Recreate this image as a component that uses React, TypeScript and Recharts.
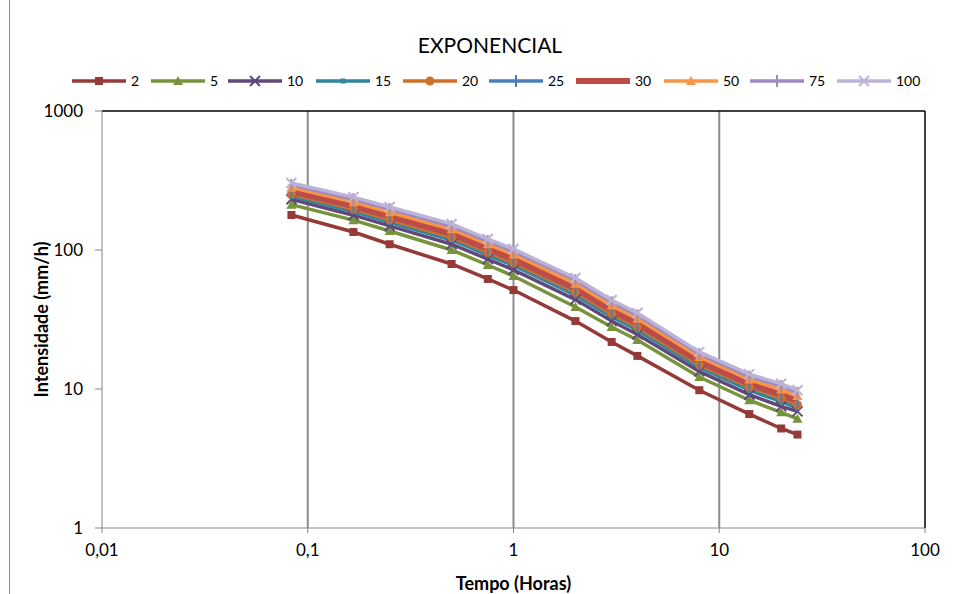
import React from 'react';
import { LineChart, Line, XAxis, YAxis, ReferenceLine } from 'recharts';

const tempo = [0.0833, 0.1667, 0.25, 0.5, 0.75, 1, 2, 3, 4, 8, 14, 20, 24];
const tr2 = [178.6, 134.7, 110, 79.3, 61.9, 51.5, 30.8, 21.8, 17.3, 9.8, 6.6, 5.2, 4.7];
const tr5 = [212, 164, 137, 100, 78, 65, 38.9, 27.9, 22.5, 12.2, 8.3, 6.8, 6.1];
const tr10 = [232, 178, 149, 110, 86, 72, 44, 30.8, 24.7, 13.4, 9.1, 7.5, 6.9];
const tr15 = [243, 189, 158, 118, 92, 77.4, 47.3, 33.1, 26.5, 14.3, 9.8, 8.1, 7.3];
const tr20 = [252, 197, 165, 123, 96, 81, 49.7, 34.7, 27.8, 14.9, 10.3, 8.6, 7.7];
const tr25 = [259, 203, 171, 128, 99.4, 84, 51.5, 35.9, 28.9, 15.4, 10.6, 8.9, 8.0];
const tr30 = [265, 208, 175, 131, 102, 86, 53, 37, 29.7, 15.8, 10.9, 9.1, 8.2];
const tr50 = [281, 221, 187, 141, 110, 93, 57.2, 39.8, 32, 17, 11.7, 9.9, 8.9];
const tr75 = [294, 232, 197, 148, 116, 98, 60.6, 42.1, 33.9, 17.9, 12.3, 10.5, 9.4];
const tr100 = [303, 240, 204, 154, 120, 101.7, 62.9, 43.7, 35.2, 18.5, 12.8, 10.9, 9.8];

const xTicks = [0.01, 0.1, 1, 10, 100];
const yTicks = [1, 10, 100, 1000];

type Shape = 'square' | 'triangle' | 'x' | 'small' | 'circle' | 'plus' | 'none';

const series: { key: string; name: string; values: number[]; color: string; shape: Shape; width: number }[] = [
  { key: 's2', name: '2', values: tr2, color: '#963A37', shape: 'square', width: 3.5 },
  { key: 's5', name: '5', values: tr5, color: '#77933C', shape: 'triangle', width: 3.5 },
  { key: 's10', name: '10', values: tr10, color: '#5F497A', shape: 'x', width: 3.5 },
  { key: 's15', name: '15', values: tr15, color: '#31859C', shape: 'small', width: 3.5 },
  { key: 's20', name: '20', values: tr20, color: '#D0702A', shape: 'circle', width: 3.5 },
  { key: 's25', name: '25', values: tr25, color: '#4A7EBB', shape: 'plus', width: 3.5 },
  { key: 's30', name: '30', values: tr30, color: '#BE4B48', shape: 'none', width: 6 },
  { key: 's50', name: '50', values: tr50, color: '#F79646', shape: 'triangle', width: 3.5 },
  { key: 's75', name: '75', values: tr75, color: '#9D8BC0', shape: 'plus', width: 3.5 },
  { key: 's100', name: '100', values: tr100, color: '#BDB3D6', shape: 'x', width: 3.5 },
];

const data = tempo.map((t, i) => {
  const row: Record<string, number> = { t };
  series.forEach((s) => {
    row[s.key] = s.values[i];
  });
  return row;
});

const FONT = 'Lato, "Liberation Sans", sans-serif';

function Marker({ cx, cy, shape, color }: { cx: number; cy: number; shape: Shape; color: string }) {
  if (shape === 'square') return <rect x={cx - 4} y={cy - 4} width={8} height={8} fill={color} />;
  if (shape === 'small') return <rect x={cx - 2.5} y={cy - 2.5} width={5} height={5} fill={color} />;
  if (shape === 'triangle')
    return <polygon points={`${cx},${cy - 5} ${cx + 5},${cy + 4} ${cx - 5},${cy + 4}`} fill={color} />;
  if (shape === 'circle') return <circle cx={cx} cy={cy} r={4.5} fill={color} />;
  if (shape === 'x')
    return (
      <path
        d={`M${cx - 5},${cy - 5}L${cx + 5},${cy + 5}M${cx - 5},${cy + 5}L${cx + 5},${cy - 5}`}
        stroke={color}
        strokeWidth={2}
      />
    );
  if (shape === 'plus')
    return <path d={`M${cx},${cy - 6}L${cx},${cy + 6}`} stroke={color} strokeWidth={2} />;
  return null;
}

const makeDot = (shape: Shape, color: string) => (props: any) => (
  <g key={`d-${props.index}-${color}`}>
    {props.cx != null && props.cy != null ? <Marker cx={props.cx} cy={props.cy} shape={shape} color={color} /> : null}
  </g>
);

const legendStarts = [72, 151, 228, 316, 403, 489, 576, 664, 750, 837];

export default function App() {
  return (
    <div style={{ position: 'absolute', left: 0, top: 0, width: 954, height: 594, background: '#fff', fontFamily: FONT }}>
      <div style={{ position: 'absolute', left: 9, top: 0, width: 1, height: 594, background: '#8c8c8c' }} />
      <div style={{ position: 'absolute', left: 0, top: 32, width: 980, textAlign: 'center', fontSize: 21, color: '#000' }}>
        EXPONENCIAL
      </div>
      <svg style={{ position: 'absolute', left: 0, top: 70 }} width={954} height={24}>
        {series.map((s, i) => {
          const x0 = legendStarts[i];
          return (
            <g key={s.key}>
              <line x1={x0} y1={11} x2={x0 + 54} y2={11} stroke={s.color} strokeWidth={s.width} />
              <Marker cx={x0 + 27} cy={11} shape={s.shape} color={s.color} />
              <text x={x0 + 59} y={16} fontSize={14} fontFamily={FONT} fill="#000">
                {s.name}
              </text>
            </g>
          );
        })}
      </svg>
      <div style={{ position: 'absolute', left: 0, top: 0 }}>
        <LineChart width={954} height={594} data={data} margin={{ top: 111, right: 29, bottom: 0, left: 0 }}>
          <XAxis
            dataKey="t"
            type="number"
            scale="log"
            domain={[0.01, 100]}
            ticks={xTicks}
            allowDataOverflow
            height={66}
            tickSize={5}
            tickMargin={11}
            stroke="#868686"
            tick={{ fill: '#000', fontSize: 17, fontFamily: FONT }}
            tickFormatter={(v: number) => String(v).replace('.', ',')}
            label={{
              value: 'Tempo (Horas)',
              position: 'insideBottom',
              offset: 4,
              style: { fontWeight: 'bold', fontSize: 18, fill: '#000', fontFamily: FONT },
            }}
          />
          <YAxis
            type="number"
            scale="log"
            domain={[1, 1000]}
            ticks={yTicks}
            allowDataOverflow
            width={102}
            tickSize={7}
            tickMargin={12}
            stroke="#868686"
            tick={{ fill: '#000', fontSize: 17, fontFamily: FONT }}
            label={{
              value: 'Intensidade (mm/h)',
              position: 'insideLeft',
              content: (p: any) => {
                const vb = p.viewBox || {};
                const cy = (vb.y || 0) + (vb.height || 0) / 2;
                return (
                  <text
                    x={41}
                    y={cy}
                    transform={`rotate(-90 41 ${cy})`}
                    textAnchor="middle"
                    dominantBaseline="central"
                    fontWeight="bold"
                    fontSize={18}
                    fontFamily={FONT}
                    fill="#000"
                  >
                    Intensidade (mm/h)
                  </text>
                );
              },
            }}
          />
          {[0.1, 1, 10].map((g) => (
            <ReferenceLine key={g} x={g} stroke="#8c8c8c" strokeWidth={2} />
          ))}
          <ReferenceLine y={1000} stroke="#000" strokeWidth={1.5} />
          <ReferenceLine x={100} stroke="#000" strokeWidth={1.5} />
          {series.map((s) => (
            <Line
              key={s.key}
              dataKey={s.key}
              name={s.name}
              stroke={s.color}
              strokeWidth={s.width}
              dot={makeDot(s.shape, s.color)}
              activeDot={false}
              isAnimationActive={false}
            />
          ))}
        </LineChart>
      </div>
    </div>
  );
}
